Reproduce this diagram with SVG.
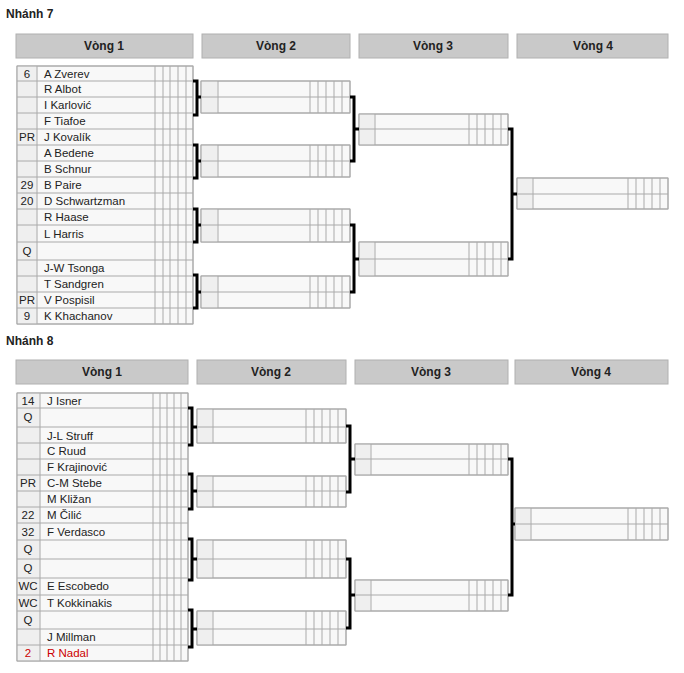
<svg xmlns="http://www.w3.org/2000/svg" width="684" height="673" viewBox="0 0 684 673">
<style>
text{font-family:"Liberation Sans",Arial,sans-serif;font-size:11.5px;fill:#222}
.t{font-weight:bold;font-size:12px;fill:#222}
.h{fill:#c9c9c9;stroke:#b0b0b0}
.ht{font-weight:bold;font-size:12px;text-anchor:middle}
.c{fill:#f8f8f8;stroke:#aaa;stroke-width:1}
.s{fill:#efefef}
.l{stroke:#aaa;stroke-width:1;fill:none}
.sd{text-anchor:middle}
.b{stroke:#000;stroke-width:3;fill:none}
</style>
<rect width="684" height="673" fill="#fff"/>
<text class="t" x="6" y="18">Nhánh 7</text>
<g id="hdr7">
<rect class="h" x="16" y="34" width="177" height="24"/><text class="ht" x="104" y="50">Vòng 1</text>
<rect class="h" x="202" y="34" width="148" height="24"/><text class="ht" x="276" y="50">Vòng 2</text>
<rect class="h" x="359" y="34" width="149" height="24"/><text class="ht" x="433" y="50">Vòng 3</text>
<rect class="h" x="517" y="34" width="151" height="24"/><text class="ht" x="593" y="50">Vòng 4</text>
</g>
<g id="r1-7">
<rect class="c" x="17" y="66" width="176" height="258"/>
<rect class="s" x="17.5" y="66.5" width="20" height="257"/>
<path class="l" d="M17 66H193V324H17Z M37 66V324 M155 66V324 M163 66V324 M170 66V324 M178 66V324 M186 66V324 M17 81H193 M17 97H193 M17 113H193 M17 129H193 M17 145H193 M17 161H193 M17 177H193 M17 193H193 M17 209H193 M17 225H193 M17 242H193 M17 260H193 M17 276H193 M17 292H193 M17 308H193"/>
<text class="sd" x="27" y="78">6</text><text x="44" y="78">A Zverev</text>
<text x="44" y="93">R Albot</text>
<text x="44" y="109">I Karlović</text>
<text x="44" y="125">F Tiafoe</text>
<text class="sd" x="27" y="141">PR</text><text x="44" y="141">J Kovalík</text>
<text x="44" y="157">A Bedene</text>
<text x="44" y="173">B Schnur</text>
<text class="sd" x="27" y="189">29</text><text x="44" y="189">B Paire</text>
<text class="sd" x="27" y="205">20</text><text x="44" y="205">D Schwartzman</text>
<text x="44" y="221">R Haase</text>
<text x="44" y="238">L Harris</text>
<text class="sd" x="27" y="255">Q</text>
<text x="44" y="272">J-W Tsonga</text>
<text x="44" y="288">T Sandgren</text>
<text class="sd" x="27" y="304">PR</text><text x="44" y="304">V Pospisil</text>
<text class="sd" x="27" y="320">9</text><text x="44" y="320">K Khachanov</text>
</g>
<g id="r2-7">
<rect class="c" x="201" y="81" width="149" height="32"/><rect class="s" x="201.5" y="81.5" width="16" height="31"/><path class="l" d="M201 81H350V113H201Z M201 97H350 M218 81V113 M310 81V113 M318 81V113 M326 81V113 M334 81V113 M342 81V113"/>
<rect class="c" x="201" y="145" width="149" height="32"/><rect class="s" x="201.5" y="145.5" width="16" height="31"/><path class="l" d="M201 145H350V177H201Z M201 161H350 M218 145V177 M310 145V177 M318 145V177 M326 145V177 M334 145V177 M342 145V177"/>
<rect class="c" x="201" y="209" width="149" height="33"/><rect class="s" x="201.5" y="209.5" width="16" height="32"/><path class="l" d="M201 209H350V242H201Z M201 225H350 M218 209V242 M310 209V242 M318 209V242 M326 209V242 M334 209V242 M342 209V242"/>
<rect class="c" x="201" y="276" width="149" height="32"/><rect class="s" x="201.5" y="276.5" width="16" height="31"/><path class="l" d="M201 276H350V308H201Z M201 292H350 M218 276V308 M310 276V308 M318 276V308 M326 276V308 M334 276V308 M342 276V308"/>
</g>
<g id="r3-7">
<rect class="c" x="359" y="114" width="149" height="31"/><rect class="s" x="359.5" y="114.5" width="15" height="30"/><path class="l" d="M359 114H508V145H359Z M359 129H508 M375 114V145 M469 114V145 M477 114V145 M485 114V145 M493 114V145 M501 114V145"/>
<rect class="c" x="359" y="242" width="149" height="34"/><rect class="s" x="359.5" y="242.5" width="15" height="33"/><path class="l" d="M359 242H508V276H359Z M359 259H508 M375 242V276 M469 242V276 M477 242V276 M485 242V276 M493 242V276 M501 242V276"/>
</g>
<g id="r4-7">
<rect class="c" x="517" y="178" width="151" height="31"/><rect class="s" x="517.5" y="178.5" width="15" height="30"/><path class="l" d="M517 178H668V209H517Z M517 194H668 M533 178V209 M628 178V209 M636 178V209 M644 178V209 M652 178V209 M660 178V209"/>
</g>
<text class="t" x="6" y="345">Nhánh 8</text>
<g id="hdr8">
<rect class="h" x="16" y="360" width="172" height="24"/><text class="ht" x="102" y="376">Vòng 1</text>
<rect class="h" x="197" y="360" width="149" height="24"/><text class="ht" x="271" y="376">Vòng 2</text>
<rect class="h" x="355" y="360" width="153" height="24"/><text class="ht" x="431" y="376">Vòng 3</text>
<rect class="h" x="515" y="360" width="153" height="24"/><text class="ht" x="591" y="376">Vòng 4</text>
</g>
<g id="r1-8">
<rect class="c" x="17" y="393" width="171" height="268"/>
<rect class="s" x="17.5" y="393.5" width="23" height="267"/>
<path class="l" d="M17 393H188V661H17Z M40 393V661 M153 393V661 M160 393V661 M167 393V661 M174 393V661 M181 393V661 M17 408H188 M17 427H188 M17 443H188 M17 459H188 M17 475H188 M17 491H188 M17 507H188 M17 523H188 M17 540H188 M17 559H188 M17 578H188 M17 595H188 M17 611H188 M17 629H188 M17 645H188"/>
<text class="sd" x="28" y="405">14</text><text x="47" y="405">J Isner</text>
<text class="sd" x="28" y="421">Q</text>
<text x="47" y="440">J-L Struff</text>
<text x="47" y="455">C Ruud</text>
<text x="47" y="471">F Krajinović</text>
<text class="sd" x="28" y="487">PR</text><text x="47" y="487">C-M Stebe</text>
<text x="47" y="503">M Kližan</text>
<text class="sd" x="28" y="519">22</text><text x="47" y="519">M Čilić</text>
<text class="sd" x="28" y="536">32</text><text x="47" y="536">F Verdasco</text>
<text class="sd" x="28" y="553">Q</text>
<text class="sd" x="28" y="572">Q</text>
<text class="sd" x="28" y="590">WC</text><text x="47" y="590">E Escobedo</text>
<text class="sd" x="28" y="607">WC</text><text x="47" y="607">T Kokkinakis</text>
<text class="sd" x="28" y="624">Q</text>
<text x="47" y="641">J Millman</text>
<text class="sd" x="28" y="657" fill="#c00" style="fill:#c00">2</text><text x="47" y="657" style="fill:#c00">R Nadal</text>
</g>
<g id="r2-8">
<rect class="c" x="197" y="409" width="149" height="34"/><rect class="s" x="197.5" y="409.5" width="15" height="33"/><path class="l" d="M197 409H346V443H197Z M197 427H346 M213 409V443 M306 409V443 M314 409V443 M322 409V443 M330 409V443 M338 409V443"/>
<rect class="c" x="197" y="476" width="149" height="31"/><rect class="s" x="197.5" y="476.5" width="15" height="30"/><path class="l" d="M197 476H346V507H197Z M197 491H346 M213 476V507 M306 476V507 M314 476V507 M322 476V507 M330 476V507 M338 476V507"/>
<rect class="c" x="197" y="540" width="149" height="38"/><rect class="s" x="197.5" y="540.5" width="15" height="37"/><path class="l" d="M197 540H346V578H197Z M197 559H346 M213 540V578 M306 540V578 M314 540V578 M322 540V578 M330 540V578 M338 540V578"/>
<rect class="c" x="197" y="611" width="149" height="34"/><rect class="s" x="197.5" y="611.5" width="15" height="33"/><path class="l" d="M197 611H346V645H197Z M197 629H346 M213 611V645 M306 611V645 M314 611V645 M322 611V645 M330 611V645 M338 611V645"/>
</g>
<g id="r3-8">
<rect class="c" x="355" y="444" width="153" height="31"/><rect class="s" x="355.5" y="444.5" width="15" height="30"/><path class="l" d="M355 444H508V475H355Z M355 459H508 M371 444V475 M469 444V475 M477 444V475 M485 444V475 M493 444V475 M501 444V475"/>
<rect class="c" x="355" y="580" width="153" height="31"/><rect class="s" x="355.5" y="580.5" width="15" height="30"/><path class="l" d="M355 580H508V611H355Z M355 595H508 M371 580V611 M469 580V611 M477 580V611 M485 580V611 M493 580V611 M501 580V611"/>
</g>
<g id="r4-8">
<rect class="c" x="515" y="508" width="153" height="32"/><rect class="s" x="515.5" y="508.5" width="15" height="31"/><path class="l" d="M515 508H668V540H515Z M515 524H668 M531 508V540 M628 508V540 M636 508V540 M644 508V540 M652 508V540 M660 508V540"/>
</g>
<g id="connectors">
<path class="b" d="M193 81H197V115H193 M197 97H201 M193 145H197V178H193 M197 161H201 M193 209H197V242H193 M197 225H201 M193 275H197V308H193 M197 292H201"/>
<path class="b" d="M350 97H354V161H350 M354 129H359 M350 225H354V292H350 M354 259H359"/>
<path class="b" d="M508 129H512V259H508 M512 194H517"/>
<path class="b" d="M188 408H192V445H188 M192 427H197 M188 474H192V509H188 M192 491H197 M188 539H192V580H188 M192 559H197 M188 610H192V647H188 M192 629H197"/>
<path class="b" d="M346 426H350V492H346 M350 459H355 M346 559H350V628H346 M350 595H355"/>
<path class="b" d="M508 459H512V595H508 M512 524H515"/>
</g>
</svg>
